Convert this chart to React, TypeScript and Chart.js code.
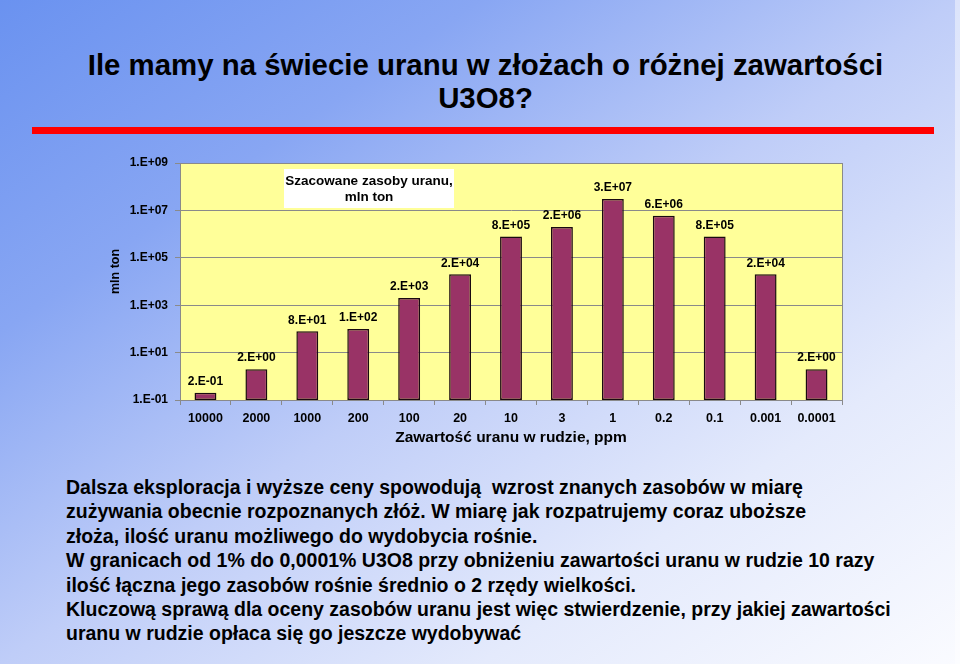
import React, { useEffect, useRef } from "react";
import { Chart, registerables } from "chart.js";

Chart.register(...registerables);

const categories = ["10000", "2000", "1000", "200", "100", "20", "10", "3", "1", "0.2", "0.1", "0.001", "0.0001"];
const reserves = [0.2, 2, 80, 100, 2000, 20000, 800000, 2000000, 30000000, 6000000, 800000, 20000, 2];
const valueLabels = ["2.E-01", "2.E+00", "8.E+01", "1.E+02", "2.E+03", "2.E+04", "8.E+05", "2.E+06", "3.E+07", "6.E+06", "8.E+05", "2.E+04", "2.E+00"];
const yTickValues = [0.1, 10, 1000, 100000, 10000000, 1000000000];
const yTickLabels = ["1.E-01", "1.E+01", "1.E+03", "1.E+05", "1.E+07", "1.E+09"];
const legendLines = ["Szacowane zasoby uranu,", "mln ton"];
const xTitle = "Zawartość uranu w rudzie, ppm";
const yTitle = "mln ton";
const titleLines = ["Ile mamy na świecie uranu w złożach o różnej zawartości", "U3O8?"];
const bodyLines = [
  "Dalsza eksploracja i wyższe ceny spowodują  wzrost znanych zasobów w miarę",
  "zużywania obecnie rozpoznanych złóż. W miarę jak rozpatrujemy coraz uboższe",
  "złoża, ilość uranu możliwego do wydobycia rośnie.",
  "W granicach od 1% do 0,0001% U3O8 przy obniżeniu zawartości uranu w rudzie 10 razy",
  "ilość łączna jego zasobów rośnie średnio o 2 rzędy wielkości.",
  "Kluczową sprawą dla oceny zasobów uranu jest więc stwierdzenie, przy jakiej zawartości",
  "uranu w rudzie opłaca się go jeszcze wydobywać",
];

const FONT = '"Liberation Sans", Arial, Helvetica, sans-serif';

const plotPlugin = {
  id: "plotDecor",
  beforeDraw(chart: any) {
    const { ctx, chartArea: a } = chart;
    ctx.save();
    ctx.fillStyle = "#FFFF99";
    ctx.fillRect(a.left, a.top, a.right - a.left, a.bottom - a.top);
    ctx.restore();
  },
  beforeDatasetsDraw(chart: any) {
    const { ctx, chartArea: a } = chart;
    ctx.save();
    ctx.strokeStyle = "#8a8a8a";
    ctx.lineWidth = 1;
    ctx.strokeRect(Math.round(a.left) + 0.5, Math.round(a.top) + 0.5, Math.round(a.right - a.left), Math.round(a.bottom - a.top));
    ctx.restore();
  },
  afterDatasetsDraw(chart: any) {
    const { ctx, chartArea: a } = chart;
    const meta = chart.getDatasetMeta(0);
    ctx.save();
    ctx.fillStyle = "#000";
    ctx.font = `bold 12px ${FONT}`;
    ctx.textAlign = "center";
    ctx.textBaseline = "middle";
    meta.data.forEach((bar: any, i: number) => {
      ctx.fillText(valueLabels[i], bar.x, bar.y - 11);
    });
    // chart title box
    const bx = a.left + 104;
    const by = a.top + 6;
    const bw = 170;
    const bh = 39;
    ctx.fillStyle = "#ffffff";
    ctx.fillRect(bx, by, bw, bh);
    ctx.fillStyle = "#000";
    ctx.font = `bold 13.5px ${FONT}`;
    legendLines.forEach((t, i) => ctx.fillText(t, bx + bw / 2, by + 12 + i * 16));
    // y axis title
    const ys = chart.scales.y;
    ctx.translate(ys.left + 36, (a.top + a.bottom) / 2 - 10);
    ctx.rotate(-Math.PI / 2);
    ctx.font = `bold 12.5px ${FONT}`;
    ctx.fillText(yTitle, 0, 0);
    ctx.restore();
  },
};

export default function App() {
  const ref = useRef<HTMLCanvasElement | null>(null);
  useEffect(() => {
    if (!ref.current) return;
    const chart = new Chart(ref.current, {
      type: "bar",
      data: {
        labels: categories,
        datasets: [
          {
            data: reserves,
            backgroundColor: "#993366",
            borderColor: "#1a0a10",
            borderWidth: 1.5,
            borderSkipped: false,
            categoryPercentage: 1,
            barPercentage: 0.43,
          },
        ],
      },
      options: {
        responsive: false,
        animation: false,
        devicePixelRatio: 1,
        layout: { padding: { left: 80, right: 118, top: 23, bottom: 10 } },
        plugins: { legend: { display: false }, tooltip: { enabled: false }, title: { display: false } },
        scales: {
          x: {
            type: "category",
            grid: { drawOnChartArea: false, tickLength: 5, offset: true, color: "#8a8a8a" },
            border: { color: "#8a8a8a" },
            ticks: { color: "#000", font: { family: FONT, size: 12.5, weight: "bold" }, maxRotation: 0, autoSkip: false, padding: 6 },
            title: { display: true, text: xTitle, color: "#000", font: { family: FONT, size: 15.5, weight: "bold" }, padding: { top: 0, bottom: 3 } },
            afterFit: (s: any) => { s.height = 50; },
          },
          y: {
            type: "logarithmic",
            min: 0.1,
            max: 1e9,
            grid: { color: "#8a8a8a", tickLength: 5 },
            border: { color: "#8a8a8a" },
            ticks: {
              color: "#000",
              font: { family: FONT, size: 12, weight: "bold" },
              padding: 7,
              callback: (v: any) => {
                const i = yTickValues.findIndex((t) => Math.abs(Math.log10(t) - Math.log10(Number(v))) < 1e-6);
                return i >= 0 ? yTickLabels[i] : "";
              },
            },
            afterBuildTicks: (s: any) => { s.ticks = yTickValues.map((v) => ({ value: v })); },
            title: { display: false },
            afterFit: (s: any) => { s.width = 100; },
          },
        },
      },
      plugins: [plotPlugin],
    } as any);
    return () => chart.destroy();
  }, []);

  return (
    <div
      style={{
        position: "fixed",
        left: 0,
        top: 0,
        width: 960,
        height: 664,
        overflow: "hidden",
        background: "linear-gradient(to bottom right, #6a92f0 0%, #88a6f3 25%, #bfcdf8 50%, #e4eafc 75%, #fafbff 100%)",
        fontFamily: FONT,
      }}
    >
      <div style={{ position: "absolute", left: 955, top: 0, width: 5, height: 664, background: "rgba(255,255,255,0.45)" }} />
      <div style={{ position: "absolute", left: 38, top: 48, width: 895, textAlign: "center", fontWeight: "bold", fontSize: 29.4, lineHeight: "33px", color: "#000" }}>
        {titleLines.map((t, i) => (
          <div key={i}>{t}</div>
        ))}
      </div>
      <div style={{ position: "absolute", left: 32, top: 127, width: 902, height: 7, background: "#ff0000" }} />
      <canvas ref={ref} width={960} height={320} style={{ position: "absolute", left: 0, top: 140, width: 960, height: 320 }} />
      <div style={{ position: "absolute", left: 66, top: 475, fontWeight: "bold", fontSize: 19.5, lineHeight: "24.4px", color: "#000", whiteSpace: "pre" }}>
        {bodyLines.map((t, i) => (
          <div key={i}>{t}</div>
        ))}
      </div>
    </div>
  );
}
